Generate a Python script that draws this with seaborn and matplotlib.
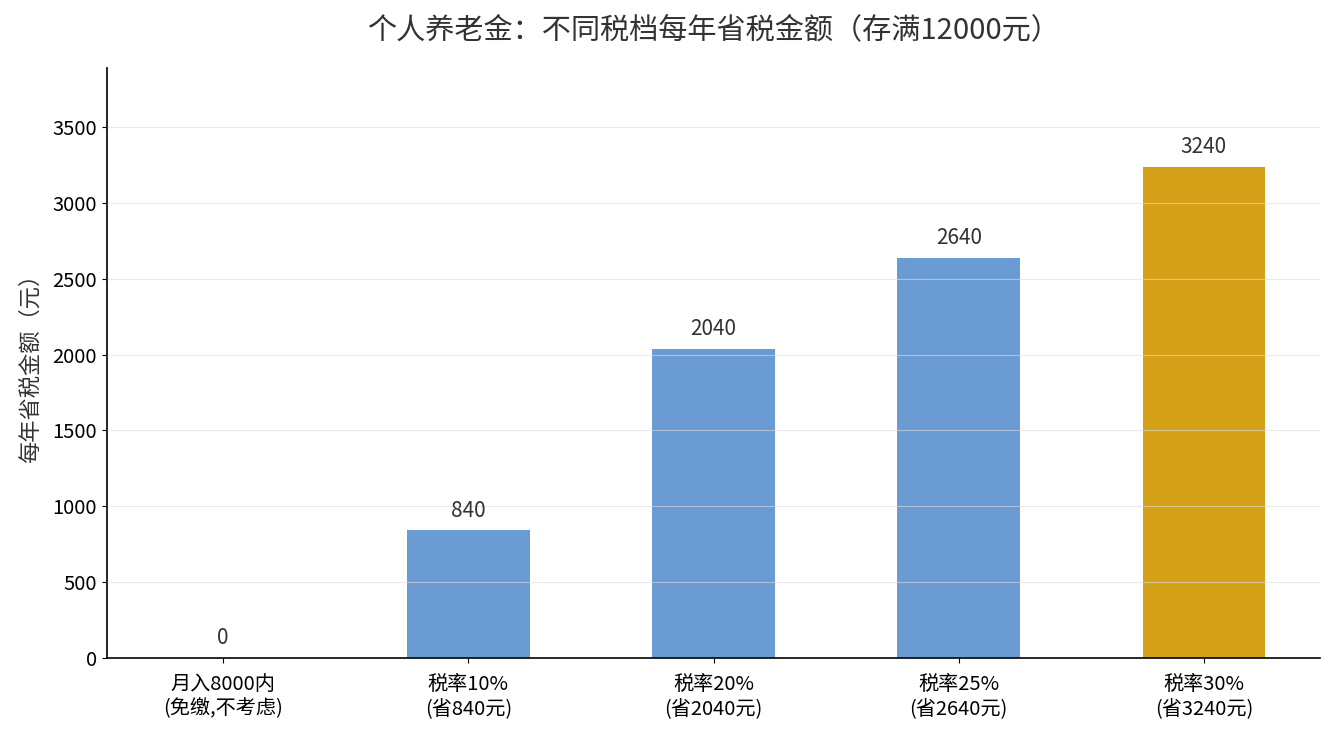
import pandas as pd
import numpy as np
import matplotlib.pyplot as plt
import seaborn as sns

categories = ["月入8000内\n(免缴,不考虑)", "税率10%\n(省840元)", "税率20%\n(省2040元)",
              "税率25%\n(省2640元)", "税率30%\n(省3240元)"]
savings = [0, 840, 2040, 2640, 3240]
colors = ["#6B9BD3", "#6B9BD3", "#6B9BD3", "#6B9BD3", "#D4A017"]

sns.set_style("ticks")
plt.rcParams['font.family'] = ['Noto Sans CJK SC', 'DejaVu Sans']

df = pd.DataFrame({"cat": categories, "val": savings})

fig, ax = plt.subplots(figsize=(13.35, 7.35), dpi=100)
sns.barplot(data=df, x="cat", y="val", hue="cat", palette=colors, legend=False,
            width=0.5, saturation=1, linewidth=0, ax=ax)

for i, v in enumerate(savings):
    ax.annotate(str(v), (i, v), xytext=(0, 6), textcoords="offset points",
                ha="center", va="bottom", fontsize=15, color="#333333")

ax.set_xlim(-0.475, 4.475)
ax.set_ylim(0, max(savings) * 1.2)
ax.set_xlabel("")
ax.set_ylabel("每年省税金额（元）", fontsize=16, color="#333333", labelpad=8)
ax.set_title("个人养老金：不同税档每年省税金额（存满12000元）", fontsize=21, color="#333333", pad=22)
ax.tick_params(labelsize=14.5, colors="black")
ax.tick_params(axis="x", pad=8)
for s in ax.spines.values():
    s.set_color("black")
    s.set_linewidth(1.2)
ax.set_axisbelow(False)
ax.yaxis.grid(True, color="#dddddd", alpha=0.6, linewidth=0.8)
sns.despine(ax=ax)

fig.subplots_adjust(left=0.08, right=0.989, top=0.907, bottom=0.105)
fig.savefig("out.png")
